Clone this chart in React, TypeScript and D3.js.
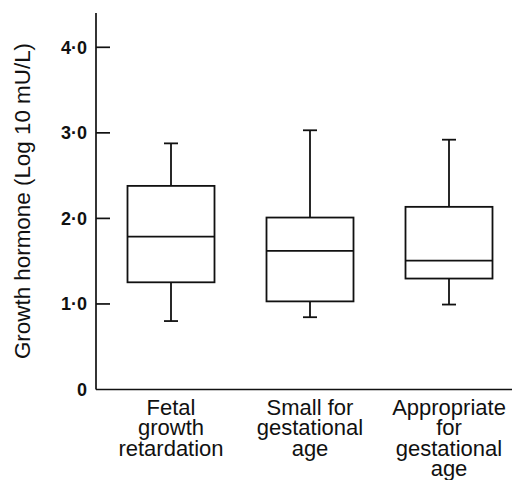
import React from "react";
import * as d3 from "d3";

const categories = ["Fetal growth retardation", "Small for gestational age", "Appropriate for gestational age"];
const categoryLines = [
  ["Fetal", "growth", "retardation"],
  ["Small for", "gestational", "age"],
  ["Appropriate", "for", "gestational", "age"],
];
const whiskerLow = [0.8, 0.845, 0.993];
const q1 = [1.253, 1.03, 1.297];
const median = [1.787, 1.62, 1.507];
const q3 = [2.38, 2.01, 2.135];
const whiskerHigh = [2.877, 3.03, 2.92];
const yTicks = [0, 1, 2, 3, 4];
const yTickLabels = ["0", "1·0", "2·0", "3·0", "4·0"];
const yTitle = "Growth hormone (Log 10 mU/L)";

const W = 514;
const H = 480;
const FONT = "'Liberation Sans', Arial, Helvetica, sans-serif";

export default function App() {
  const y = d3.scaleLinear().domain([0, 4]).range([389.5, 47.3]);
  const x = d3.scalePoint<string>().domain(categories).range([171, 449]);
  const axisX = 96;
  const axisRight = 512;
  const yTop = y(4.4);
  const boxW = 87;
  const capW = 14;
  const sw = 1.8;

  return (
    <svg
      width={W}
      height={H}
      viewBox={`0 0 ${W} ${H}`}
      style={{ position: "absolute", left: 0, top: 0, background: "#fff" }}
    >
      <rect x={0} y={0} width={W} height={H} fill="#fff" />
      {/* axes */}
      <line x1={axisX} x2={axisX} y1={yTop} y2={y(0)} stroke="#111" strokeWidth={1.7} />
      <line x1={axisX} x2={axisRight} y1={y(0)} y2={y(0)} stroke="#111" strokeWidth={1.7} />
      {yTicks.map((t, i) => (
        <g key={t}>
          {t !== 0 && (
            <line x1={axisX} x2={axisX + 14} y1={y(t)} y2={y(t)} stroke="#111" strokeWidth={1.7} />
          )}
          <text
            x={87}
            y={y(t)}
            dy="0.36em"
            textAnchor="end"
            fontFamily={FONT}
            fontWeight="bold"
            fontSize={18}
            fill="#111"
          >
            {yTickLabels[i]}
          </text>
        </g>
      ))}
      <text
        transform={`translate(29.5, 201) rotate(-90)`}
        textAnchor="middle"
        fontFamily={FONT}
        fontSize={22.4}
        fill="#111"
      >
        {yTitle}
      </text>
      {/* boxes */}
      {categories.map((c, i) => {
        const cx = x(c) as number;
        return (
          <g key={c} stroke="#111" strokeWidth={sw} fill="none">
            <line x1={cx} x2={cx} y1={y(whiskerHigh[i])} y2={y(q3[i])} />
            <line x1={cx} x2={cx} y1={y(q1[i])} y2={y(whiskerLow[i])} />
            <line x1={cx - capW / 2} x2={cx + capW / 2} y1={y(whiskerHigh[i])} y2={y(whiskerHigh[i])} />
            <line x1={cx - capW / 2} x2={cx + capW / 2} y1={y(whiskerLow[i])} y2={y(whiskerLow[i])} />
            <rect x={cx - boxW / 2} y={y(q3[i])} width={boxW} height={y(q1[i]) - y(q3[i])} fill="#fff" />
            <line x1={cx - boxW / 2} x2={cx + boxW / 2} y1={y(median[i])} y2={y(median[i])} />
          </g>
        );
      })}
      {/* category labels */}
      {categories.map((c, i) => {
        const cx = x(c) as number;
        return (
          <text key={c} textAnchor="middle" fontFamily={FONT} fontSize={22} fill="#111">
            {categoryLines[i].map((ln, j) => (
              <tspan key={j} x={cx} y={415 + j * 20.3}>
                {ln}
              </tspan>
            ))}
          </text>
        );
      })}
    </svg>
  );
}
